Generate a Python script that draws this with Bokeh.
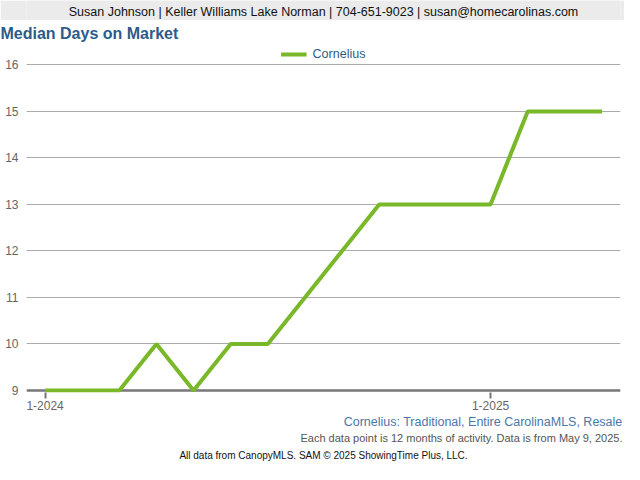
from bokeh.plotting import figure
from bokeh.layouts import column
from bokeh.models import (Range1d, FixedTicker, Label, Title, Legend, LegendItem, Span)
from bokeh.embed import file_html
from bokeh.resources import INLINE

# ---- data ----
months = ["1-2024", "2-2024", "3-2024", "4-2024", "5-2024", "6-2024", "7-2024", "8-2024",
          "9-2024", "10-2024", "11-2024", "12-2024", "1-2025", "2-2025", "3-2025", "4-2025"]
cornelius = [9, 9, 9, 10, 9, 10, 10, 11, 12, 13, 13, 13, 13, 15, 15, 15]
x_tick_labels = ["1-2024", "1-2025"]
y_ticks = [9, 10, 11, 12, 13, 14, 15, 16]
series_name = "Cornelius"

header_text = "Susan Johnson | Keller Williams Lake Norman | 704-651-9023 | susan@homecarolinas.com"
title_text = "Median Days on Market"
sub1 = "Cornelius: Traditional, Entire CarolinaMLS, Resale"
sub2 = "Each data point is 12 months of activity. Data is from May 9, 2025."
sub3 = "All data from CanopyMLS. SAM \u00a9 2025 ShowingTime Plus, LLC."

FONT = "Liberation Sans"
W = 624
FW = 594
FH = 348
LINE_COLOR = "#79b829"
BLUE = "#2d5b8a"

# ---- header band ----
h = figure(width=W, height=20, x_range=Range1d(0, 1), y_range=Range1d(0, 1),
           output_backend="svg", toolbar_location=None,
           min_border=0, min_border_left=0, min_border_right=0, min_border_top=0, min_border_bottom=0)
h.axis.visible = False
h.grid.visible = False
h.outline_line_color = None
h.background_fill_color = "#ebebeb"
h.border_fill_color = "#ebebeb"
h.add_layout(Label(x=0.5, y=0.45, text=header_text, text_align="center", text_baseline="middle",
                   text_font=FONT, text_font_size="12.5px", text_color="#111111"))

# ---- main chart ----
xs = list(range(len(months)))
p = figure(frame_width=FW, frame_height=FH, x_range=Range1d(-0.5, 15.5), y_range=Range1d(8.955, 16.44),
           output_backend="svg", toolbar_location=None,
           min_border_left=26, min_border_right=4, min_border_top=0, min_border_bottom=0)
p.outline_line_color = None
p.background_fill_color = "white"
p.border_fill_color = "white"

p.xgrid.visible = False
p.ygrid.grid_line_color = "#aaaaaa"
p.ygrid.grid_line_width = 1
p.yaxis.ticker = FixedTicker(ticks=y_ticks)
p.yaxis.axis_line_color = None
p.yaxis.major_tick_line_color = None
p.yaxis.major_tick_out = 0
p.yaxis.major_tick_in = 0
p.yaxis.minor_tick_line_color = None
p.yaxis.major_label_standoff = 8
p.yaxis.major_label_text_font = FONT
p.yaxis.major_label_text_font_size = "12px"
p.yaxis.major_label_text_color = "#666666"

tick_idx = [months.index(tk) for tk in x_tick_labels]
p.xaxis.ticker = FixedTicker(ticks=tick_idx)
p.xaxis.major_label_overrides = {i: months[i] for i in tick_idx}
p.xaxis.axis_line_color = None
p.xaxis.major_tick_line_color = "#777777"
p.xaxis.major_tick_line_width = 2
p.xaxis.major_tick_in = 0
p.xaxis.major_tick_out = 6
p.xaxis.minor_tick_line_color = None
p.xaxis.major_label_standoff = 2
p.xaxis.major_label_text_font = FONT
p.xaxis.major_label_text_font_size = "12px"
p.xaxis.major_label_text_color = "#666666"

p.add_layout(Span(location=9, dimension="width", line_color="#777777", line_width=2.5, level="underlay"))

r = p.line(xs, cornelius, line_color=LINE_COLOR, line_width=4)

legend = Legend(items=[LegendItem(label=series_name, renderers=[r])], location="top_center",
                orientation="horizontal", border_line_color=None, background_fill_alpha=0,
                label_text_font=FONT, label_text_font_size="12.5px", label_text_color=BLUE,
                glyph_width=26, glyph_height=8, padding=0, margin=3, label_standoff=6,
                label_height=14)
p.add_layout(legend, "center")

p.add_layout(Title(text=title_text, align="left", text_font=FONT, text_font_size="16px",
                   text_font_style="bold", text_color=BLUE, offset=-26, standoff=5), "above")

p.add_layout(Title(text=sub1, align="right", text_font=FONT, text_font_size="12.5px",
                   text_font_style="normal", text_color="#4a78aa", offset=-2, standoff=0), "below")
p.add_layout(Title(text=sub2, align="right", text_font=FONT, text_font_size="11px",
                   text_font_style="normal", text_color="#555555", offset=-2, standoff=2), "below")
p.add_layout(Title(text=sub3, align="center", text_font=FONT, text_font_size="10px",
                   text_font_style="normal", text_color="#111111", standoff=6), "below")

layout = column(h, p, spacing=0)
open("out.html", "w").write(file_html(layout, INLINE))
